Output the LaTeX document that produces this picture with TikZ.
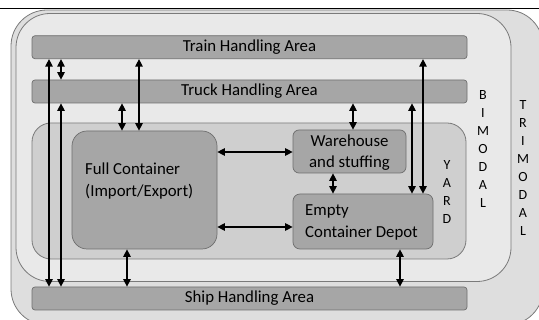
\documentclass[tikz,border=0pt]{standalone}
\usepackage{fontspec}
\setmainfont{Carlito}
\usetikzlibrary{arrows.meta}
\definecolor{trigray}{HTML}{DEDEDE}
\definecolor{bigray}{HTML}{E9E9E9}
\definecolor{yardgray}{HTML}{CFCFCF}
\definecolor{boxgray}{HTML}{A6A6A6}
\definecolor{linegray}{HTML}{7A7A7A}
\definecolor{boxline}{HTML}{6E6E6E}
\begin{document}
\begin{tikzpicture}[x=1pt,y=-1pt,
  region/.style={draw=linegray, line width=0.8pt},
  area/.style={draw=boxline, fill=boxgray, rounded corners=3pt, minimum width=435pt,
    minimum height=23pt, inner sep=0pt, line width=0.7pt, font=\fontsize{16.8}{20}\selectfont},
  box/.style={draw=boxline, fill=boxgray, inner sep=0pt, line width=0.7pt},
  lbl/.style={inner sep=0pt, font=\fontsize{16.8}{21.5}\selectfont},
  vert/.style={inner sep=0pt, align=center, font=\fontsize{14}{18}\selectfont},
  arr/.style={{Triangle[length=7.5pt,width=7.5pt]}-{Triangle[length=7.5pt,width=7.5pt]}, line width=1.2pt}
]
\useasboundingbox (0,0) rectangle (539,320);
\fill[white] (0,0) rectangle (539,320);
\draw[line width=1pt] (0,8.5) -- (539,8.5);
% regions
\draw[region, fill=trigray, rounded corners=36pt] (11,10) rectangle (543,325);
\draw[region, fill=bigray, rounded corners=34pt] (16,13.5) rectangle (511,281.5);
\draw[region, fill=yardgray, rounded corners=19pt] (32,123) rectangle (466,259);
% handling areas
\node[area] (train) at (249.5,47.25) {Train Handling Area};
\node[area] (truck) at (249.5,91.5) {Truck Handling Area};
\node[area] (ship) at (249.5,298.5) {Ship Handling Area};
% yard boxes
\node[box, rounded corners=15pt, minimum width=145pt, minimum height=118pt] (full) at (144.5,190) {};
\node[box, rounded corners=6pt, minimum width=113pt, minimum height=43pt] (wh) at (349.5,151.5) {};
\node[box, rounded corners=7pt, minimum width=140pt, minimum height=55pt] (empty) at (363,221.5) {};
\node[lbl, align=left, anchor=north west] (fulltxt) at (85,163) {Full Container\\(Import/Export)};
\node[lbl, align=center] (whtxt) at (349.5,152.5) {Warehouse\\and stuffing};
\node[lbl, align=left, anchor=north west] (emptytxt) at (305,205) {Empty\\Container Depot};
% vertical labels
\node[vert] (yardtxt) at (447,192.5) {Y\\A\\R\\D};
\node[vert] (bitxt) at (483,149) {B\\I\\M\\O\\D\\A\\L};
\node[vert] (tritxt) at (523,168.5) {T\\R\\I\\M\\O\\D\\A\\L};
% connectors
\draw[arr] (train.south -| 49,0) -- (ship.north -| 49,0);
\draw[arr] (train.south -| 61,0) -- (truck.north -| 61,0);
\draw[arr] (truck.south -| 61,0) -- (ship.north -| 61,0);
\draw[arr] (truck.south -| 122,0) -- (full.north -| 122,0);
\draw[arr] (train.south -| 139,0) -- (full.north -| 139,0);
\draw[arr] (full.east |- 0,152) -- (wh.west |- 0,152);
\draw[arr] (full.east |- 0,227) -- (empty.west |- 0,227);
\draw[arr] (truck.south -| 353,0) -- (wh.north -| 353,0);
\draw[arr] (wh.south -| 333,0) -- (empty.north -| 333,0);
\draw[arr] (truck.south -| 412,0) -- (empty.north -| 412,0);
\draw[arr] (train.south -| 423,0) -- (empty.north -| 423,0);
\draw[arr] (full.south -| 127,0) -- (ship.north -| 127,0);
\draw[arr] (empty.south -| 400,0) -- (ship.north -| 400,0);
\end{tikzpicture}
\end{document}
